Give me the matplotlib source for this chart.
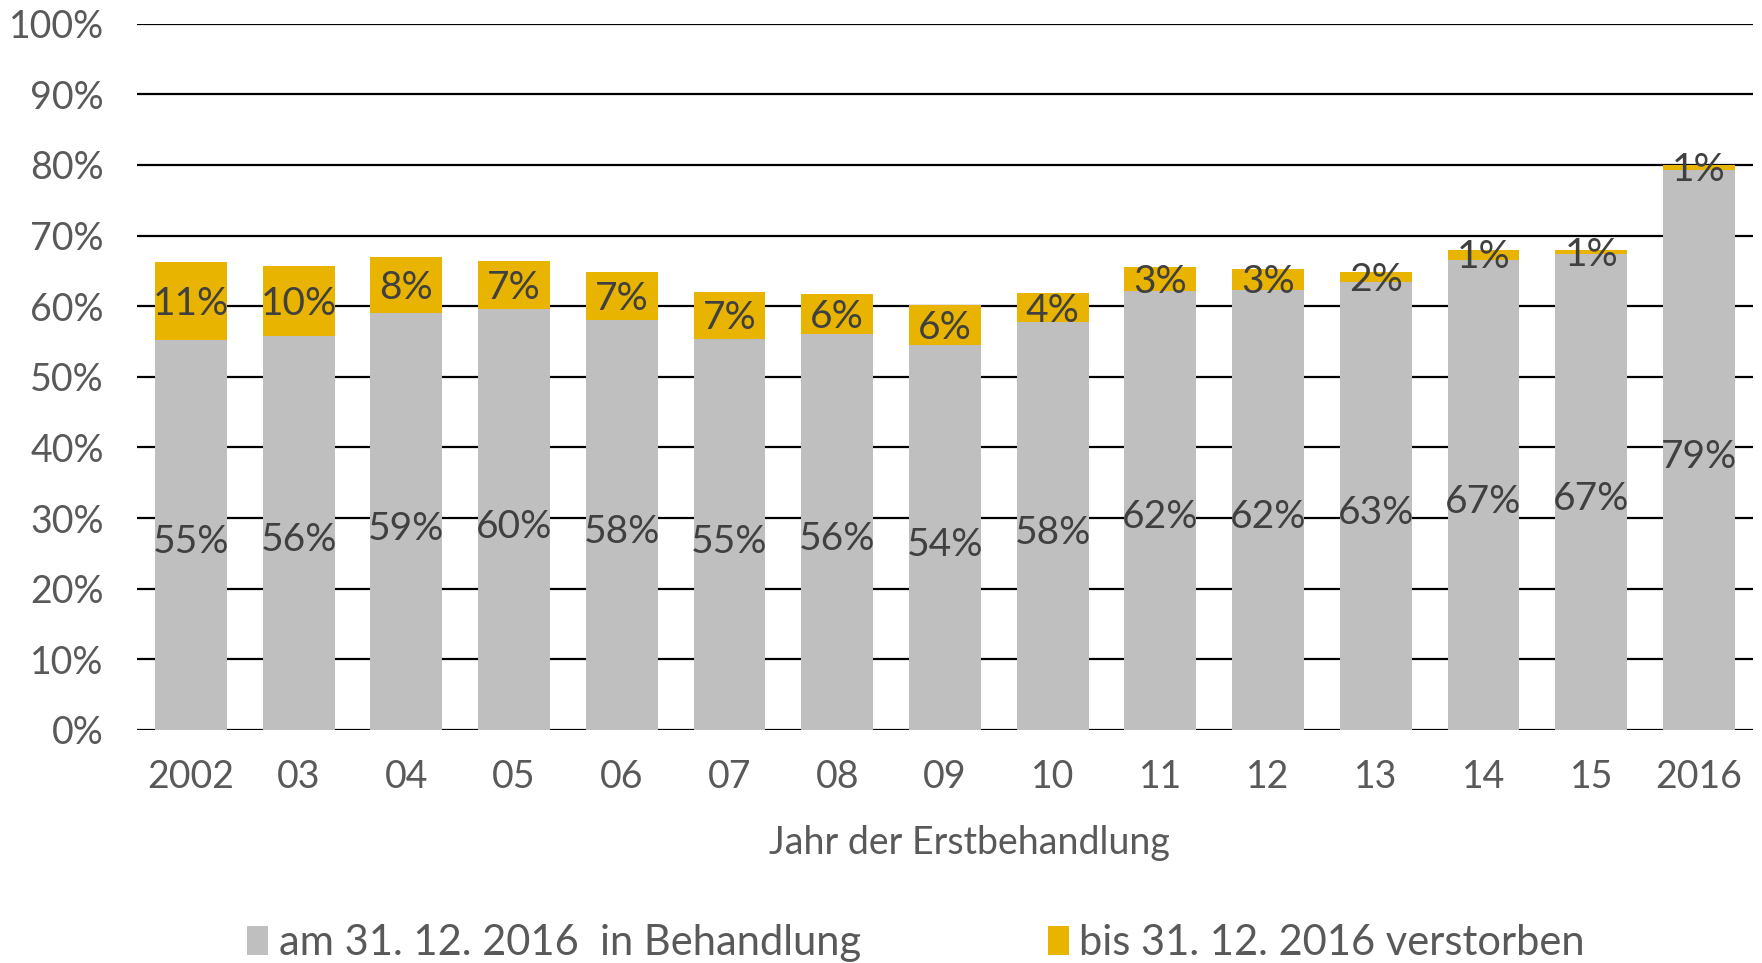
import numpy as np
import matplotlib
matplotlib.use("Agg")
import matplotlib.pyplot as plt

# Anteil je Jahr der Erstbehandlung (in %)
jahre = ["2002", "03", "04", "05", "06", "07", "08", "09",
         "10", "11", "12", "13", "14", "15", "2016"]
in_behandlung = [55.2, 55.8, 59.0, 59.6, 58.0, 55.3, 56.1, 54.5,
                 57.7, 62.2, 62.3, 63.4, 66.6, 67.4, 79.3]
verstorben = [11.1, 9.9, 7.9, 6.8, 6.8, 6.7, 5.6, 5.7,
              4.1, 3.3, 3.0, 1.5, 1.4, 0.6, 0.7]

serie_namen = ["am 31. 12. 2016  in Behandlung", "bis 31. 12. 2016 verstorben"]
farben = ["#bfbfbf", "#e8b400"]

plt.rcParams['font.family'] = ['Lato', 'DejaVu Sans']

fig = plt.figure(figsize=(17.62, 9.63), dpi=100)
ax = fig.add_axes([0.0778, 0.242, 0.917, 0.7335])

x = np.arange(len(jahre))
b1 = ax.bar(x, in_behandlung, width=0.667, color=farben[0], label=serie_namen[0], zorder=3)
b2 = ax.bar(x, verstorben, width=0.667, bottom=in_behandlung, color=farben[1],
            label=serie_namen[1], zorder=3)

# Beschriftungen mittig in den Segmenten
for i in range(len(jahre)):
    ax.text(x[i], in_behandlung[i] / 2 - 1, f"{round(in_behandlung[i])}%",
            ha="center", va="center", fontsize=28, color="#404040", zorder=4)
    ax.text(x[i], in_behandlung[i] + verstorben[i] / 2 - 0.4, f"{round(verstorben[i])}%",
            ha="center", va="center", fontsize=28, color="#404040", zorder=4)

ax.set_xlim(-0.5, len(jahre) - 0.5)
ax.set_ylim(0, 100)
ax.set_yticks(np.arange(0, 101, 10))
ax.set_yticklabels([f"{v}%" for v in range(0, 101, 10)])
ax.set_xticks(x)
ax.set_xticklabels(jahre)
ax.grid(axis="y", color="black", linewidth=1.6, zorder=0)
ax.set_axisbelow(True)
for s in ax.spines.values():
    s.set_visible(False)
ax.tick_params(axis="both", length=0, labelsize=27, colors="#595959")
ax.tick_params(axis="x", pad=21)
ax.tick_params(axis="y", pad=24)

ax.set_xlabel("Jahr der Erstbehandlung", fontsize=27, color="#595959")
ax.xaxis.set_label_coords(0.515, -0.135)

fig.legend(handles=[b1, b2], labels=serie_namen, loc="lower center",
           bbox_to_anchor=(0.52, -0.038), ncol=2, frameon=False, fontsize=30,
           labelcolor="#595959", handlelength=0.5, handleheight=0.7,
           handletextpad=0.25, columnspacing=4.5)

fig.savefig("out.png", dpi=100)
